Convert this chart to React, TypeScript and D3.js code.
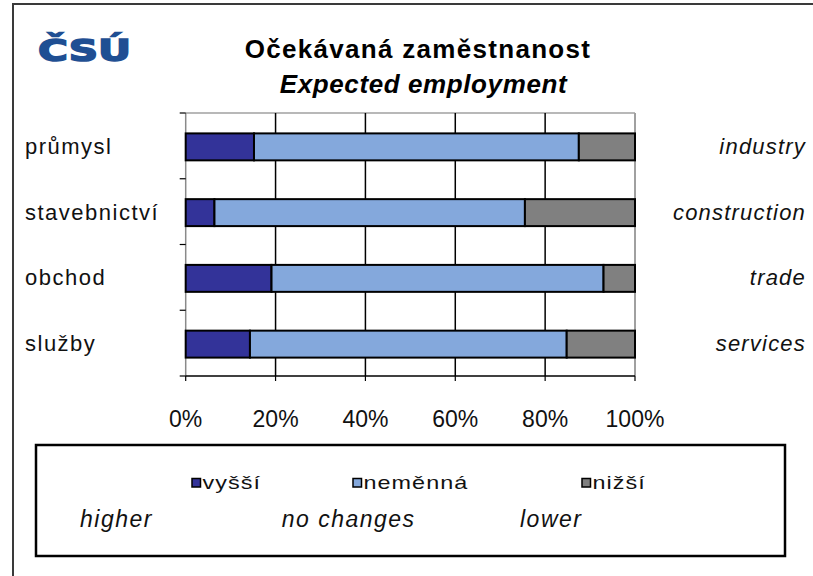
import React from "react";
import * as d3 from "d3";

const categoriesCz = ["průmysl", "stavebnictví", "obchod", "služby"];
const categoriesEn = ["industry", "construction", "trade", "services"];
const seriesCz = ["vyšší", "neměnná", "nižší"];
const seriesEn = ["higher", "no changes", "lower"];
const higher = [15.2, 6.4, 19.1, 14.3];
const noChanges = [72.3, 69.1, 73.9, 70.5];
const lower = [12.5, 24.5, 7.0, 15.2];
const xTicks = [0, 20, 40, 60, 80, 100];

const colors = ["#333399", "#84a8dc", "#808080"];
const FONT = "'Liberation Sans', Arial, Helvetica, sans-serif";

export default function App() {
  const W = 813, H = 576;
  const left = 185.7, right = 635, top = 113, bottom = 376;

  const rows = categoriesCz.map((c, i) => ({
    cat: c,
    s0: higher[i],
    s1: noChanges[i],
    s2: lower[i],
  }));
  const stack = d3.stack<any>().keys(["s0", "s1", "s2"])(rows);

  const x = d3.scaleLinear().domain([0, 100]).range([left, right]);
  const y = d3
    .scaleBand<string>()
    .domain(categoriesCz)
    .range([top, bottom])
    .paddingInner(0.59)
    .paddingOuter(0.295);
  const step = y.step();

  const legendSwatchX = [192, 353, 582];
  const legendEnX = [80, 281.7, 520];

  return (
    <svg
      width={W}
      height={H}
      style={{ position: "absolute", left: 0, top: 0, display: "block" }}
      fontFamily={FONT}
    >
      <rect x={0} y={0} width={W} height={H} fill="#ffffff" />
      {/* outer frame */}
      <path d={`M13,${H + 5} L13,4 L${W + 5},4`} fill="none" stroke="#3a3a3a" strokeWidth={2} />

      {/* logo */}
      <text
        x={38}
        y={61}
        fontFamily="'DejaVu Sans', sans-serif"
        fontWeight={900}
        fontSize={31}
        fill="#1f4f93"
        stroke="#1f4f93"
        strokeWidth={1.6}
        textLength={93}
        lengthAdjust="spacingAndGlyphs"
      >
        ČSÚ
      </text>

      {/* titles */}
      <text x={418} y={58.3} textAnchor="middle" fontWeight="bold" fontSize={26} letterSpacing={1.3} fill="#000">
        Očekávaná zaměstnanost
      </text>
      <text
        x={423.5}
        y={93.3}
        textAnchor="middle"
        fontWeight="bold"
        fontStyle="italic"
        fontSize={26}
        letterSpacing={0.6}
        fill="#000"
      >
        Expected employment
      </text>

      {/* plot area border (top/right) */}
      <line x1={left} x2={right} y1={top} y2={top} stroke="#a0a0a0" strokeWidth={1.5} />
      <line x1={right} x2={right} y1={top} y2={bottom} stroke="#a0a0a0" strokeWidth={2} />

      {/* gridlines */}
      {xTicks
        .filter((t) => t > 0 && t < 100)
        .map((t) => (
          <line key={t} x1={x(t)} x2={x(t)} y1={top} y2={bottom} stroke="#000" strokeWidth={1.5} />
        ))}

      {/* left axis */}
      <line x1={left} x2={left} y1={top} y2={bottom} stroke="#8a8a8a" strokeWidth={1.5} />
      {d3.range(categoriesCz.length + 1).map((i) => (
        <line
          key={i}
          x1={left - 6}
          x2={left}
          y1={top + i * step}
          y2={top + i * step}
          stroke="#000"
          strokeWidth={1.2}
        />
      ))}

      {/* bottom axis */}
      <line x1={left} x2={right} y1={bottom} y2={bottom} stroke="#000" strokeWidth={1.5} />
      {xTicks.map((t) => (
        <line key={t} x1={x(t)} x2={x(t)} y1={bottom} y2={bottom + 5} stroke="#000" strokeWidth={1.2} />
      ))}
      {xTicks.map((t) => (
        <text key={t} x={x(t)} y={427} textAnchor="middle" fontSize={23} fill="#111">
          {t}%
        </text>
      ))}

      {/* bars */}
      {stack.map((s, si) =>
        s.map((d, i) => (
          <rect
            key={`${si}-${i}`}
            x={x(d[0])}
            y={(y(categoriesCz[i]) as number) + 1}
            width={x(d[1]) - x(d[0])}
            height={y.bandwidth()}
            fill={colors[si]}
            stroke="#000"
            strokeWidth={2}
          />
        ))
      )}

      {/* category labels */}
      {categoriesCz.map((c, i) => (
        <text
          key={c}
          x={25}
          y={(y(c) as number) + y.bandwidth() / 2 + 8}
          fontSize={22}
          letterSpacing={1.5}
          fill="#111"
        >
          {c}
        </text>
      ))}
      {categoriesEn.map((c, i) => (
        <text
          key={c}
          x={806}
          y={(y(categoriesCz[i]) as number) + y.bandwidth() / 2 + 8}
          textAnchor="end"
          fontSize={22}
          fontStyle="italic"
          letterSpacing={1.2}
          fill="#111"
        >
          {c}
        </text>
      ))}

      {/* legend */}
      <rect x={36} y={445} width={749} height={111} fill="none" stroke="#000" strokeWidth={2.5} />
      {seriesCz.map((s, i) => (
        <g key={s}>
          <rect x={legendSwatchX[i]} y={478.5} width={8.5} height={8.5} fill={colors[i]} stroke="#000" strokeWidth={1.5} />
          <text
            transform={`translate(${legendSwatchX[i] + 10.5},488.5) scale(1.3,1)`}
            fontSize={18}
            letterSpacing={0.8}
            fill="#111"
          >
            {s}
          </text>
        </g>
      ))}
      {seriesEn.map((s, i) => (
        <text key={s} x={legendEnX[i]} y={527} fontSize={23} fontStyle="italic" letterSpacing={1.5} fill="#111">
          {s}
        </text>
      ))}
    </svg>
  );
}
